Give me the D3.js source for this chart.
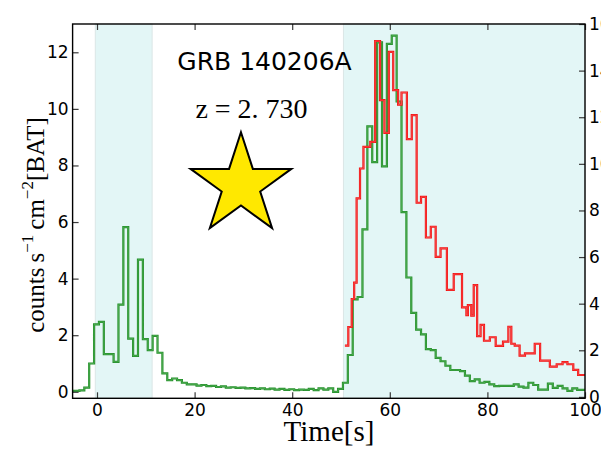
<!DOCTYPE html>
<html>
<head>
<meta charset="utf-8">
<script src="https://cdn.jsdelivr.net/npm/d3@7"></script>
<style>
  html, body { margin: 0; padding: 0; background: #ffffff; }
  svg { display: block; }
</style>
</head>
<body>
<svg id="chart" width="601" height="452"></svg>
<script>
// ---- Data -------------------------------------------------------------
// BAT light curve: 1 s bins, first bin starting at greenStart
const greenStart = -5.6;
const greenBinWidth = 1;
const greenRates = [
  0.03, 0.03, 0.05, 0.15, 1.0, 2.38, 2.47, 1.33, 1.33, 1.06,
  3.08, 5.82, 1.88, 1.27, 4.67, 1.86, 1.47, 1.98, 1.38, 0.65,
  0.41, 0.47, 0.41, 0.32, 0.26, 0.26, 0.22, 0.24, 0.20, 0.21,
  0.17, 0.19, 0.15, 0.16, 0.14, 0.15, 0.12, 0.13, 0.10, 0.12,
  0.09, 0.11, 0.08, 0.10, 0.07, 0.09, 0.06, 0.08, 0.07, 0.10,
  0.06, 0.12, 0.08, 0.12, 0.00, 0.10, 0.32, 1.30, 3.27, 3.35,
  5.74, 9.38, 8.12, 12.35, 7.97, 12.30, 12.59, 10.26, 6.35, 4.04,
  2.79, 2.20, 2.03, 1.51, 1.47, 1.20, 1.08, 0.92, 0.77, 0.77,
  0.73, 0.57, 0.38, 0.44, 0.32, 0.35, 0.26, 0.20, 0.21, 0.21,
  0.21, 0.26, 0.18, 0.15, 0.32, 0.24, 0.08, 0.08, 0.29, 0.14,
  0.21, 0.12, 0.03, 0.12, 0.07, 0.07
];

// Second light curve (right axis), variable-width bins
const redEdges = [
  50.8, 51.5, 52.2, 52.7, 53.2, 53.9, 54.6, 56.0, 57.0, 58.0,
  58.9, 59.8, 60.7, 61.7, 62.4, 63.5, 64.5, 65.5, 66.4, 67.4,
  68.4, 69.4, 70.4, 71.7, 73.1, 74.8, 75.7, 76.0, 76.7, 77.2,
  77.9, 78.6, 79.3, 80.5, 81.7, 83.2, 84.3, 84.9, 85.6, 86.6,
  87.7, 89.7, 90.8, 92.8, 94.2, 95.4, 96.4, 97.6, 98.6, 100.2
];
const redRates = [
  2.2, 3.0, 4.2, 4.9, 8.52, 9.8, 10.73, 10.94, 15.27, 12.73,
  11.33, 14.8, 13.16, 12.54, 13.06, 11.06, 12.09, 8.33, 8.58, 6.84,
  7.3, 6.01, 6.37, 4.59, 5.27, 3.84, 3.51, 3.94, 3.49, 4.8,
  2.61, 3.09, 2.41, 2.56, 2.19, 2.37, 3.01, 2.28, 2.2, 1.77,
  1.87, 2.28, 1.56, 1.3, 1.4, 1.49, 1.4, 1.16, 0.94
];

// Shaded emission intervals [start, end] in seconds
const intervals = [[-0.35, 11.3], [50.5, 100]];

const xTicks = [0, 20, 40, 60, 80, 100];
const yLeftTicks = [0, 2, 4, 6, 8, 10, 12];
const yRightTicks = [0, 2, 4, 6, 8, 10, 12, 14, 16];

const grbName = "GRB 140206A";
const redshiftText = "z = 2. 730";
const starPosition = [29.5, 7.3];   // [time, left-axis rate]

// ---- Layout -----------------------------------------------------------
const svg = d3.select("#chart");
const plot = { left: 72.6, right: 585, top: 24, bottom: 398.3 };

const x = d3.scaleLinear().domain([-5, 100]).range([plot.left, plot.right]);
const yL = d3.scaleLinear().domain([-0.23, 13]).range([plot.bottom, plot.top]);
const yR = d3.scaleLinear().domain([-0.06, 16]).range([plot.bottom, plot.top]);

svg.append("defs").append("clipPath").attr("id", "plotClip")
  .append("rect")
  .attr("x", plot.left).attr("y", plot.top)
  .attr("width", plot.right - plot.left).attr("height", plot.bottom - plot.top);

// shaded intervals
svg.append("g").selectAll("rect").data(intervals).join("rect")
  .attr("x", d => x(d[0]))
  .attr("y", plot.top)
  .attr("width", d => x(d[1]) - x(d[0]))
  .attr("height", plot.bottom - plot.top)
  .attr("fill", "#e3f6f6")
  .attr("stroke", "#dbe6e6")
  .attr("stroke-width", 1);

// step curves
const greenPoints = greenRates.map((v, i) => [greenStart + i * greenBinWidth, v]);
greenPoints.push([greenStart + greenRates.length * greenBinWidth, greenRates[greenRates.length - 1]]);
const redPoints = redRates.map((v, i) => [redEdges[i], v]);
redPoints.push([redEdges[redEdges.length - 1], redRates[redRates.length - 1]]);

const greenLine = d3.line().x(d => x(d[0])).y(d => yL(d[1])).curve(d3.curveStepAfter);
const redLine = d3.line().x(d => x(d[0])).y(d => yR(d[1])).curve(d3.curveStepAfter);

const curves = svg.append("g").attr("clip-path", "url(#plotClip)");
function drawDouble(path, outer, inner) {
  curves.append("path").attr("d", path).attr("fill", "none")
    .attr("stroke", outer).attr("stroke-width", 2.2).attr("stroke-linejoin", "miter");
  curves.append("path").attr("d", path).attr("fill", "none")
    .attr("stroke", inner).attr("stroke-width", 0.5).attr("stroke-linejoin", "miter");
}
drawDouble(greenLine(greenPoints), "#23902a", "#6fc06f");
drawDouble(redLine(redPoints), "#f21010", "#ff7a7a");

// ---- Axes -------------------------------------------------------------
const tickFont = "DejaVu Sans, sans-serif";
const tickLen = 6;

const axBottom = svg.append("g").attr("transform", `translate(0,${plot.bottom})`)
  .call(d3.axisBottom(x).tickValues(xTicks).tickSize(-tickLen).tickPadding(6).tickFormat(d3.format("d")));
const axTop = svg.append("g").attr("transform", `translate(0,${plot.top})`)
  .call(d3.axisTop(x).tickValues(xTicks).tickSize(-tickLen).tickFormat(""));
const axLeft = svg.append("g").attr("transform", `translate(${plot.left},0)`)
  .call(d3.axisLeft(yL).tickValues(yLeftTicks).tickSize(-tickLen).tickPadding(4).tickFormat(d3.format("d")));
const axRight = svg.append("g").attr("transform", `translate(${plot.right},0)`)
  .call(d3.axisRight(yR).tickValues(yRightTicks).tickSize(-tickLen).tickPadding(4).tickFormat(d3.format("d")));

[axBottom, axTop, axLeft, axRight].forEach(g => {
  g.select(".domain").remove();
  g.selectAll(".tick line").attr("stroke", "#3a3a3a").attr("stroke-width", 1.2);
  g.selectAll(".tick text").attr("font-family", tickFont).attr("font-size", 17).attr("fill", "#000");
});

// frame
svg.append("rect")
  .attr("x", plot.left).attr("y", plot.top)
  .attr("width", plot.right - plot.left).attr("height", plot.bottom - plot.top)
  .attr("fill", "none").attr("stroke", "#000").attr("stroke-width", 1.4);

// axis titles
const serif = "Liberation Serif, DejaVu Serif, serif";
svg.append("text")
  .attr("x", 329).attr("y", 441)
  .attr("text-anchor", "middle")
  .attr("font-family", serif).attr("font-size", 29)
  .text("Time[s]");

const yTitle = svg.append("text")
  .attr("transform", "translate(44,225) rotate(-90)")
  .attr("text-anchor", "middle")
  .attr("font-family", serif).attr("font-size", 25);
yTitle.append("tspan").text("counts\u2009s");
yTitle.append("tspan").attr("dy", -11).attr("font-size", 17).text("\u22121");
yTitle.append("tspan").attr("dy", 11).text("\u2009cm");
yTitle.append("tspan").attr("dy", -11).attr("font-size", 17).text("\u22122");
yTitle.append("tspan").attr("dy", 11).text("[BAT]");

// ---- Annotations ------------------------------------------------------
svg.append("text")
  .attr("x", 264.5).attr("y", 70)
  .attr("text-anchor", "middle")
  .attr("font-family", "DejaVu Sans, sans-serif").attr("font-size", 25)
  .text(grbName);

svg.append("text")
  .attr("x", 251.5).attr("y", 118)
  .attr("text-anchor", "middle")
  .attr("font-family", serif).attr("font-size", 28)
  .text(redshiftText);

svg.append("path")
  .attr("d", d3.symbol(d3.symbolStar, 3150)())
  .attr("transform", `translate(${x(starPosition[0])},${yL(starPosition[1])})`)
  .attr("fill", "#ffe800")
  .attr("stroke", "#000")
  .attr("stroke-width", 2);
</script>
</body>
</html>
